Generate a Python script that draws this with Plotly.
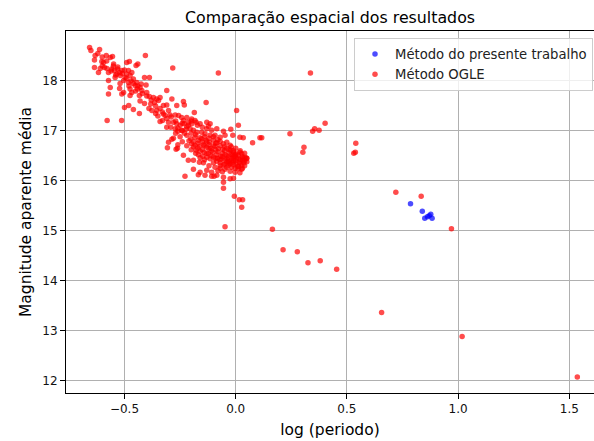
import plotly.graph_objects as go

# ---- data: (log period, mean apparent magnitude) ----
present_logp = [0.786, 0.839, 0.850, 0.862, 0.877, 0.883, 0.870]
present_mag = [15.54, 15.39, 15.25, 15.28, 15.33, 15.25, 15.30]

ogle_branch = [
    (-0.657, 18.67), (-0.651, 18.61), (-0.612, 18.63), (-0.632, 18.51), (-0.635, 18.42),
    (-0.582, 18.51), (-0.564, 18.47), (-0.554, 18.49), (-0.602, 18.39), (-0.594, 18.37),
    (-0.635, 18.27), (-0.609, 18.25), (-0.590, 18.27), (-0.617, 18.17), (-0.579, 18.25),
    (-0.572, 18.17), (-0.557, 18.24), (-0.549, 18.34), (-0.545, 18.21), (-0.531, 18.24),
    (-0.522, 18.17), (-0.512, 18.21), (-0.534, 18.14), (-0.519, 18.11), (-0.542, 18.07),
    (-0.490, 18.37), (-0.478, 18.39), (-0.448, 18.31), (-0.440, 18.34), (-0.406, 18.51),
    (-0.482, 18.21), (-0.467, 18.17), (-0.475, 18.11), (-0.490, 18.14), (-0.497, 18.07),
    (-0.504, 18.01), (-0.482, 17.97), (-0.460, 18.04), (-0.445, 17.97), (-0.452, 17.91),
    (-0.430, 17.87), (-0.425, 17.94), (-0.410, 18.07), (-0.388, 18.07), (-0.572, 18.01),
    (-0.564, 17.87), (-0.522, 17.85), (-0.504, 17.77), (-0.475, 17.84), (-0.467, 17.77),
    (-0.442, 17.84), (-0.422, 17.81), (-0.572, 17.74), (-0.512, 17.74), (-0.475, 17.71),
    (-0.433, 17.71), (-0.403, 17.92), (-0.400, 17.77), (-0.388, 17.69), (-0.370, 17.67),
    (-0.355, 17.64), (-0.365, 17.57), (-0.347, 17.61), (-0.340, 17.67), (-0.310, 17.81),
    (-0.287, 17.64), (-0.382, 17.54), (-0.377, 17.41), (-0.355, 17.41), (-0.325, 17.51),
    (-0.310, 17.52), (-0.235, 17.59), (-0.231, 17.52), (-0.265, 17.51), (-0.302, 17.41),
    (-0.500, 17.47), (-0.481, 17.51), (-0.460, 17.43), (-0.433, 17.35), (-0.578, 17.21),
    (-0.513, 17.21), (-0.283, 18.26), (-0.078, 18.16), (-0.133, 17.57), (0.004, 17.41),
    (-0.186, 17.37),
    (-0.620, 18.55), (-0.600, 18.48), (-0.580, 18.40), (-0.550, 18.30), (-0.530, 18.28),
    (-0.510, 18.15), (-0.500, 18.22), (-0.490, 18.05), (-0.470, 18.00), (-0.460, 17.95),
    (-0.440, 17.90), (-0.420, 17.75), (-0.400, 17.70), (-0.380, 17.62), (-0.360, 17.50),
    (-0.340, 17.45), (-0.330, 17.38), (-0.560, 18.20), (-0.540, 18.12), (-0.600, 18.30),
    (-0.520, 17.95), (-0.480, 17.90), (-0.450, 17.80), (-0.430, 17.60), (-0.410, 17.55),
    (-0.390, 17.45), (-0.360, 17.35), (-0.350, 17.30),
]

ogle_core = [
    (-0.325, 17.34), (-0.317, 17.31), (-0.295, 17.32), (-0.272, 17.32), (-0.257, 17.31),
    (-0.243, 17.27), (-0.235, 17.21), (-0.220, 17.27), (-0.213, 17.17), (-0.198, 17.24),
    (-0.183, 17.21), (-0.340, 17.19), (-0.329, 17.21), (-0.302, 17.17), (-0.280, 17.17),
    (-0.265, 17.14), (-0.250, 17.11), (-0.232, 17.14), (-0.213, 17.11), (-0.198, 17.14),
    (-0.178, 17.17), (-0.160, 17.14), (-0.130, 17.17), (-0.115, 17.14), (-0.123, 17.09),
    (-0.172, 17.11), (-0.150, 17.07), (-0.130, 17.04), (-0.108, 17.01), (-0.085, 17.04),
    (-0.055, 16.99), (-0.022, 17.03), (0.012, 17.11), (-0.310, 17.07), (-0.292, 17.07),
    (-0.272, 17.04), (-0.260, 16.99), (-0.243, 17.01), (-0.223, 17.03), (-0.205, 17.04),
    (-0.190, 17.01), (-0.175, 16.97), (-0.153, 16.97), (-0.138, 16.94), (-0.115, 16.91),
    (-0.093, 16.91), (-0.070, 16.87), (-0.048, 16.91), (-0.013, 16.91), (0.019, 16.87),
    (0.034, 16.86), (0.076, 16.76), (0.109, 16.86), (0.117, 16.86),
    (-0.310, 17.25), (-0.290, 17.28), (-0.270, 17.20), (-0.260, 17.05), (-0.240, 17.15),
    (-0.220, 17.08), (-0.200, 17.20),
    (-0.220, 16.91), (-0.202, 16.84), (-0.183, 16.87), (-0.168, 16.81), (-0.153, 16.84),
    (-0.133, 16.81), (-0.118, 16.77), (-0.100, 16.81), (-0.085, 16.76), (-0.070, 16.79),
    (-0.055, 16.74), (-0.040, 16.77), (-0.025, 16.71), (-0.198, 16.74), (-0.183, 16.71),
    (-0.163, 16.69), (-0.145, 16.72), (-0.130, 16.67), (-0.112, 16.65), (-0.093, 16.69),
    (-0.078, 16.64), (-0.058, 16.63), (-0.040, 16.65), (-0.022, 16.61), (-0.010, 16.57),
    (-0.178, 16.61), (-0.160, 16.59), (-0.142, 16.57), (-0.123, 16.54), (-0.103, 16.57),
    (-0.085, 16.52), (-0.067, 16.49), (-0.048, 16.52), (-0.033, 16.47), (-0.018, 16.45),
    (-0.003, 16.49), (0.012, 16.51), (0.027, 16.54), (0.042, 16.47), (0.049, 16.45),
    (0.031, 16.41), (0.016, 16.37), (0.001, 16.34), (-0.013, 16.37), (-0.033, 16.39),
    (-0.048, 16.41), (-0.063, 16.44), (-0.082, 16.45), (-0.100, 16.47), (-0.115, 16.44),
    (-0.130, 16.47), (-0.148, 16.49), (-0.168, 16.52), (-0.033, 16.31), (-0.018, 16.27),
    (-0.003, 16.25), (0.012, 16.24), (0.027, 16.31), (0.037, 16.36), (0.004, 16.44),
    (-0.010, 16.41), (-0.025, 16.34), (-0.040, 16.27), (-0.055, 16.32), (-0.070, 16.36),
    (-0.085, 16.39), (-0.100, 16.36), (-0.093, 16.27), (-0.070, 16.25), (-0.048, 16.23),
    (-0.025, 16.19), (-0.003, 16.17), (0.019, 16.16), (0.027, 16.23), (0.012, 16.29),
    (0.031, 16.45), (0.019, 16.57), (0.001, 16.54), (-0.013, 16.51), (-0.302, 16.77),
    (-0.307, 16.66), (-0.287, 16.83), (-0.268, 16.63), (-0.262, 16.65), (-0.235, 16.51),
    (-0.213, 16.41), (-0.190, 16.41), (-0.163, 16.37), (-0.145, 16.36), (-0.190, 16.23),
    (-0.160, 16.17), (-0.130, 16.21), (-0.108, 16.17), (-0.228, 16.09), (-0.168, 16.12),
    (-0.138, 16.11), (-0.108, 16.09), (-0.097, 16.09), (-0.085, 16.11), (-0.055, 16.07),
    (-0.025, 16.04), (-0.010, 16.05), (-0.055, 15.97), (-0.055, 15.85), (-0.006, 15.69),
    (0.016, 15.62), (0.031, 15.62), (0.027, 15.47),
    (-0.210, 16.80), (-0.190, 16.78), (-0.170, 16.75), (-0.150, 16.78), (-0.140, 16.70),
    (-0.120, 16.72), (-0.110, 16.60), (-0.090, 16.62), (-0.080, 16.58), (-0.060, 16.55),
    (-0.050, 16.60), (-0.040, 16.50), (-0.030, 16.56), (-0.020, 16.52), (-0.010, 16.48),
    (0.000, 16.40), (0.010, 16.45), (0.020, 16.42), (0.030, 16.48), (0.040, 16.40),
    (0.050, 16.38), (-0.020, 16.40), (-0.040, 16.44), (-0.060, 16.48), (-0.070, 16.42),
    (-0.090, 16.45), (-0.110, 16.50), (-0.130, 16.55), (-0.150, 16.62), (-0.170, 16.65),
    (-0.190, 16.68), (-0.160, 16.86), (-0.140, 16.88), (-0.120, 16.85), (-0.100, 16.88),
    (-0.080, 16.82), (-0.100, 16.70), (-0.120, 16.64), (-0.070, 16.70), (-0.050, 16.68),
    (-0.030, 16.62), (-0.010, 16.60), (0.000, 16.52), (0.020, 16.35), (0.040, 16.30),
    (0.010, 16.28), (-0.010, 16.32), (-0.030, 16.36), (-0.050, 16.33), (-0.070, 16.30),
    (-0.080, 16.20), (-0.060, 16.18), (-0.120, 16.30), (-0.140, 16.42), (-0.160, 16.46),
    (-0.180, 16.55), (-0.200, 16.62), (-0.220, 16.70), (-0.240, 16.78), (-0.250, 16.88),
    (-0.230, 16.95), (-0.270, 16.95), (-0.260, 16.72), (-0.280, 16.85), (-0.240, 17.00),
    (-0.200, 16.95), (-0.180, 16.92), (-0.040, 16.38), (0.030, 16.25), (0.050, 16.45),
    (0.040, 16.55), (0.020, 16.60), (0.000, 16.65), (-0.020, 16.68), (-0.090, 16.75),
    (-0.130, 16.78),
]

ogle_outliers = [
    (0.336, 18.16), (0.402, 17.15), (0.375, 17.01), (0.355, 17.04), (0.346, 16.99),
    (0.307, 16.67), (0.302, 16.57), (0.540, 16.75), (0.531, 16.55), (0.538, 16.57),
    (0.244, 16.94), (0.720, 15.77), (0.834, 15.69), (0.970, 15.04), (1.018, 12.88),
    (1.536, 12.07), (0.656, 13.36), (0.454, 14.23), (0.380, 14.40), (0.325, 14.36),
    (0.277, 14.58), (0.213, 14.62), (0.165, 15.03), (-0.048, 15.08),
]

x_ticks = [-0.5, 0.0, 0.5, 1.0, 1.5]
y_ticks = [12, 13, 14, 15, 16, 17, 18]

ogle_all = ogle_branch + ogle_core + ogle_outliers
ogle_logp = [p[0] for p in ogle_all]
ogle_mag = [p[1] for p in ogle_all]

fig = go.Figure()
fig.add_trace(go.Scatter(
    x=present_logp, y=present_mag, mode="markers", name="Método do presente trabalho",
    marker=dict(color="blue", size=5.5, opacity=0.7, line=dict(width=0)),
))
fig.add_trace(go.Scatter(
    x=ogle_logp, y=ogle_mag, mode="markers", name="Método OGLE",
    marker=dict(color="red", size=5.5, opacity=0.7, line=dict(width=0)),
))

W, H = 594, 441
L, R, T, B = 66, 0, 31, 48
plot_w = W - L - R
plot_h = H - T - B

fig.update_layout(
    width=W, height=H,
    margin=dict(l=L, r=R, t=T, b=B, autoexpand=False),
    paper_bgcolor="white", plot_bgcolor="white",
    font=dict(family="DejaVu Sans", color="black"),
    title=dict(text="Comparação espacial dos resultados", x=0.5, xref="paper",
               xanchor="center", y=1 - 17 / H, yanchor="middle",
               font=dict(size=15.8, color="black")),
    legend=dict(x=(354 - L) / plot_w, xanchor="left", y=1 - 7 / plot_h, yanchor="top",
                bgcolor="rgba(255,255,255,0.8)", bordercolor="#cccccc", borderwidth=1,
                font=dict(size=13.2, color="#222222"), tracegroupgap=0),
    showlegend=True,
)
fig.update_xaxes(
    range=[-0.763, 1.611], tickvals=x_ticks, tickformat=".1f", automargin=False,
    showgrid=True, gridcolor="#b0b0b0", gridwidth=1, zeroline=False,
    showline=True, linecolor="black", linewidth=1, mirror=True,
    ticks="outside", ticklen=5, tickcolor="black", tickwidth=1,
    tickfont=dict(size=12, color="#111111"),
    title=dict(text="log (periodo)", font=dict(size=15.5, color="black"), standoff=8),
)
fig.update_yaxes(
    range=[11.75, 19.0], tickvals=y_ticks, automargin=False,
    showgrid=True, gridcolor="#b0b0b0", gridwidth=1, zeroline=False,
    showline=True, linecolor="black", linewidth=1, mirror=False,
    ticks="outside", ticklen=5, tickcolor="black", tickwidth=1,
    tickfont=dict(size=12, color="#111111"),
    title=dict(text="Magnitude aparente média", font=dict(size=15.5, color="black"), standoff=6),
)

fig.write_html(
    "out.html",
    config={"displayModeBar": False},
    post_script="document.body.style.margin='0';document.body.style.padding='0';",
)
